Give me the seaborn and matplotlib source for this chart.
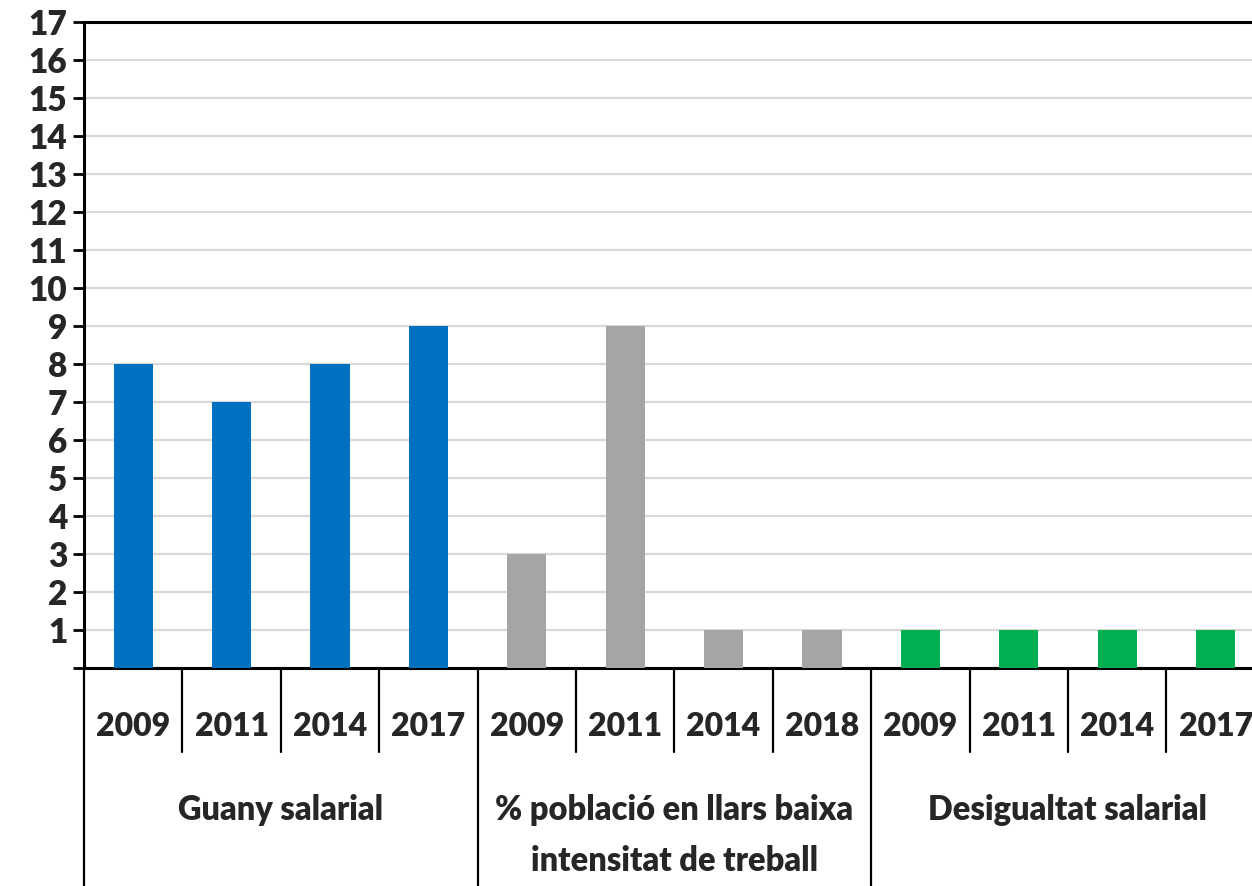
import pandas as pd
import numpy as np
import matplotlib.pyplot as plt
import seaborn as sns

# Data
groups = ["Guany salarial", "% població en llars baixa\nintensitat de treball", "Desigualtat salarial"]
years_guany = ["2009", "2011", "2014", "2017"]
years_llars = ["2009", "2011", "2014", "2018"]
years_desig = ["2009", "2011", "2014", "2017"]
values_guany = [8, 7, 8, 9]
values_llars = [3, 9, 1, 1]
values_desig = [1, 1, 1, 1]
colors = ["#0070C0", "#A5A5A5", "#00B050"]

sns.set_style("white")
plt.rcParams['font.family'] = ['Lato', 'DejaVu Sans']
plt.rcParams['font.weight'] = 'heavy'

# Build long table, one row per bar
rows = []
for g, yrs, vals in zip(groups, [years_guany, years_llars, years_desig],
                        [values_guany, values_llars, values_desig]):
    for y, v in zip(yrs, vals):
        rows.append({"group": g, "year": y, "value": v, "key": f"{g}|{y}"})
df = pd.DataFrame(rows)

fig = plt.figure(figsize=(12.52, 8.86), dpi=100)
ax = fig.add_axes([84 / 1252, (886 - 668) / 886, 1180.8 / 1252, 646 / 886])

sns.barplot(data=df, x="key", y="value", hue="group", order=list(df["key"]),
            hue_order=groups, palette=colors, dodge=False, width=0.4,
            saturation=1, linewidth=0, legend=False, ax=ax, zorder=3)

ax.set_xlim(-0.5, len(df) - 0.5)
ax.set_ylim(0, 17)
ax.set_yticks(range(0, 18))
ax.set_yticklabels([str(i) if i > 0 else "" for i in range(0, 18)], fontsize=24, fontweight='heavy')
ax.yaxis.grid(True, color="#D9D9D9", linewidth=1.6, zorder=0)
ax.set_axisbelow(True)
ax.tick_params(axis='y', direction='out', length=8, width=2, color='black', pad=4, left=True)

ax.set_xticks(range(len(df)))
ax.set_xticklabels(df["year"], fontsize=23, fontweight='heavy')
ax.tick_params(axis='x', length=0, pad=32)
ax.set_xlabel("")
ax.set_ylabel("")

for side in ["left", "bottom", "top"]:
    ax.spines[side].set_visible(True)
    ax.spines[side].set_color("black")
    ax.spines[side].set_linewidth(2.2)
ax.spines["right"].set_visible(False)

# Category separators under the axis
trans = ax.get_xaxis_transform()
n = len(df)
group_edges = [-0.5, 3.5, 7.5, 11.5]
for i in range(n + 1):
    xpos = i - 0.5
    if xpos in group_edges:
        ax.plot([xpos, xpos], [0, -0.36], color="black", lw=1.6, transform=trans, clip_on=False)
    else:
        ax.plot([xpos, xpos], [0, -0.13], color="black", lw=1.6, transform=trans, clip_on=False)

# Group labels
for k, g in enumerate(groups):
    center = 4 * k + 1.5
    ax.text(center, -0.195, g, transform=trans, ha="center", va="top",
            fontsize=23.5, fontweight='heavy', linespacing=1.72)

fig.savefig("out.png", dpi=100)
plt.close()
